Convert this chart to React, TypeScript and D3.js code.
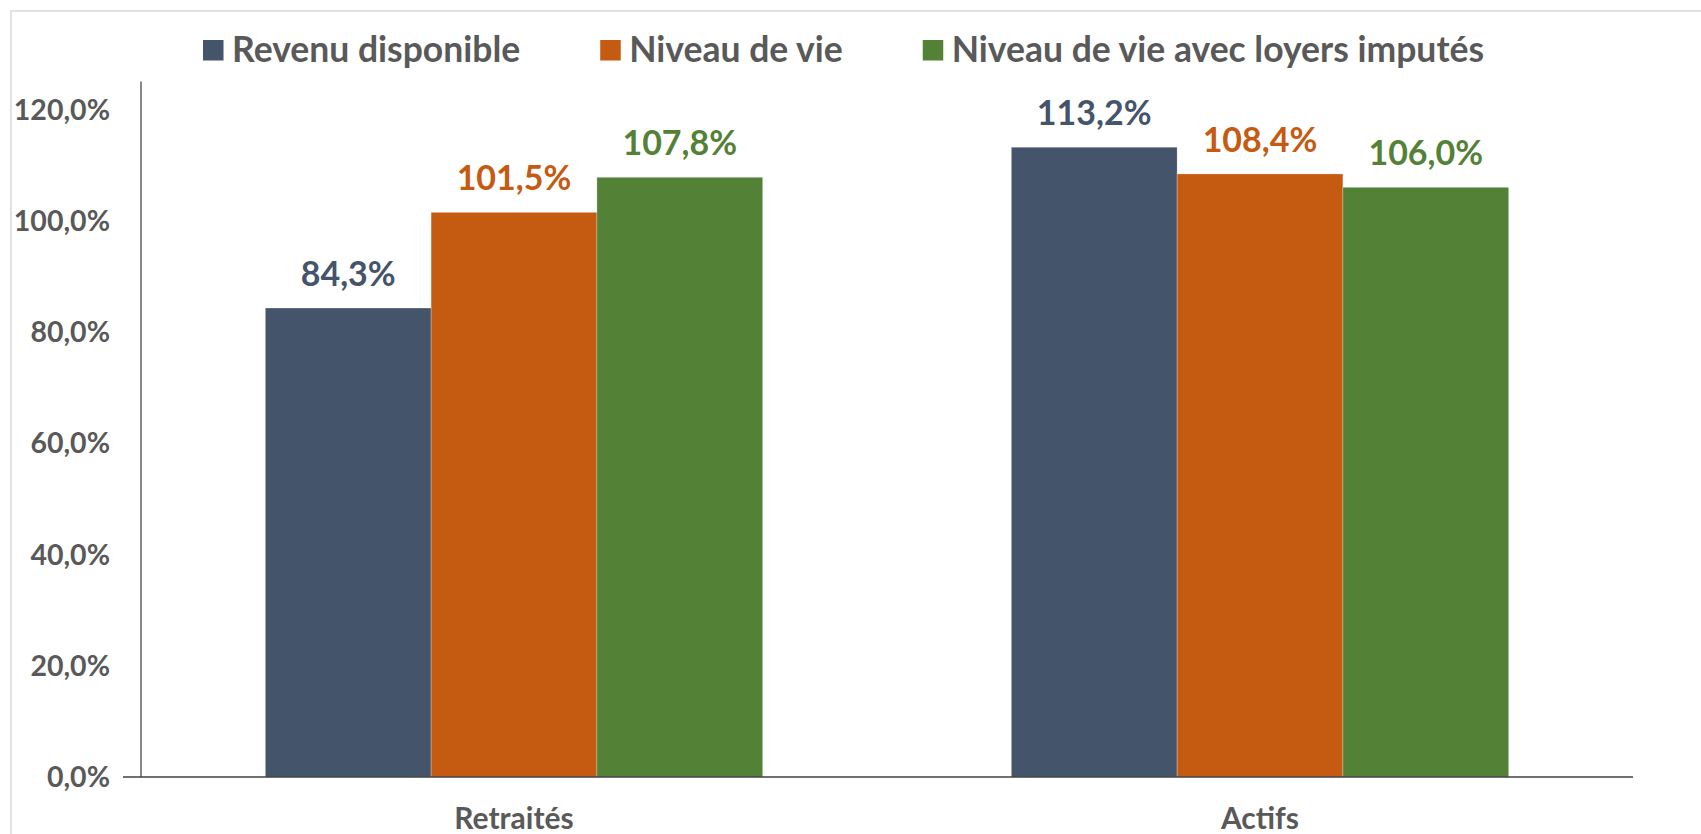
import React, { useEffect, useRef } from "react";
import * as d3 from "d3";

const categories = ["Retraités", "Actifs"];
const seriesNames = ["Revenu disponible", "Niveau de vie", "Niveau de vie avec loyers imputés"];
const seriesColors = ["#44546A", "#C55A11", "#538135"];
const revenuDisponible = [0.843, 1.132];
const niveauDeVie = [1.015, 1.084];
const niveauDeVieLoyers = [1.078, 1.06];
const yTicks = [0, 0.2, 0.4, 0.6, 0.8, 1.0, 1.2];

const W = 1701;
const H = 834;
const FONT = "Lato, 'Open Sans', sans-serif";
const TEXT = "#595959";

const fmt = (v: number) => (v * 100).toFixed(1).replace(".", ",") + "%";

export default function App() {
  const ref = useRef<SVGSVGElement | null>(null);

  useEffect(() => {
    const svg = d3.select(ref.current);
    svg.selectAll("*").remove();

    const series = [revenuDisponible, niveauDeVie, niveauDeVieLoyers];
    const margin = { left: 141, right: W - 1633, top: 81.6, bottom: H - 777 };

    // chart frame
    svg.append("rect")
      .attr("x", 11).attr("y", 11)
      .attr("width", W + 20).attr("height", H + 20)
      .attr("fill", "#fff").attr("stroke", "#d9d9d9").attr("stroke-width", 1.5);

    const x0 = d3.scaleBand<string>().domain(categories)
      .range([margin.left, W - margin.right]).paddingInner(0).paddingOuter(0);
    const x1 = d3.scaleBand<number>().domain([0, 1, 2])
      .range([0, x0.bandwidth()]).paddingInner(0).paddingOuter(0.75);
    const y = d3.scaleLinear().domain([0, 1.25]).range([H - margin.bottom, margin.top]);

    // bars
    categories.forEach((c, ci) => {
      series.forEach((s, si) => {
        const bx = (x0(c) as number) + (x1(si) as number);
        svg.append("rect")
          .attr("x", bx).attr("y", y(s[ci]))
          .attr("width", x1.bandwidth()).attr("height", y(0) - y(s[ci]))
          .attr("fill", seriesColors[si])
          .attr("stroke", "#ffffff").attr("stroke-opacity", 0.35).attr("stroke-width", 0.75);
        svg.append("text")
          .attr("x", bx + x1.bandwidth() / 2).attr("y", y(s[ci]) - 22)
          .attr("text-anchor", "middle")
          .attr("font-family", FONT).attr("font-weight", 700).attr("font-size", 34)
          .attr("fill", seriesColors[si])
          .text(fmt(s[ci]));
      });
    });

    // y axis
    svg.append("line")
      .attr("x1", margin.left).attr("x2", margin.left)
      .attr("y1", y(1.25)).attr("y2", y(0))
      .attr("stroke", "#404040").attr("stroke-width", 1.25);
    yTicks.forEach((t) => {
      svg.append("text")
        .attr("x", 110).attr("y", y(t))
        .attr("dy", "0.36em")
        .attr("text-anchor", "end")
        .attr("font-family", FONT).attr("font-weight", 700).attr("font-size", 28.5)
        .attr("fill", TEXT)
        .text(fmt(t));
    });

    // x axis
    svg.append("line")
      .attr("x1", margin.left - 18).attr("x2", W - margin.right)
      .attr("y1", y(0)).attr("y2", y(0))
      .attr("stroke", "#404040").attr("stroke-width", 1.5);
    categories.forEach((c) => {
      svg.append("text")
        .attr("x", (x0(c) as number) + x0.bandwidth() / 2).attr("y", 829)
        .attr("text-anchor", "middle")
        .attr("font-family", FONT).attr("font-weight", 700).attr("font-size", 30)
        .attr("fill", TEXT)
        .text(c);
    });

    // legend
    let lx = 203;
    seriesNames.forEach((n, i) => {
      svg.append("rect")
        .attr("x", lx).attr("y", 40).attr("width", 20.5).attr("height", 20.5)
        .attr("fill", seriesColors[i]);
      const t = svg.append("text")
        .attr("x", lx + 29).attr("y", 61.5)
        .attr("font-family", FONT).attr("font-weight", 700).attr("font-size", 35.5)
        .attr("fill", TEXT)
        .text(n);
      const w = (t.node() as SVGTextElement).getComputedTextLength();
      lx += 29 + w + 80;
    });
  }, []);

  return (
    <svg ref={ref} width={W} height={H}
      style={{ position: "fixed", left: 0, top: 0, background: "#fff" }} />
  );
}
